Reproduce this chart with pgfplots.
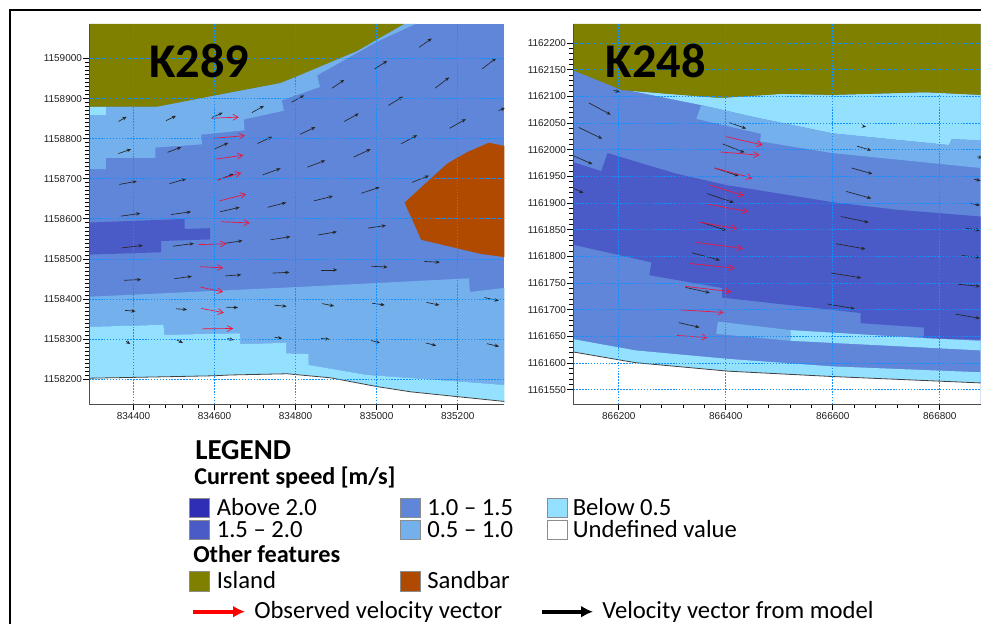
\documentclass[border=0pt]{standalone}
\usepackage{fontspec}
\setmainfont{Liberation Sans}
\newfontfamily\carlito{Carlito}
\usepackage{pgfplots}
\pgfplotsset{compat=1.18}
\usetikzlibrary{arrows.meta}
\definecolor{cIsland}{HTML}{808000}
\definecolor{cSand}{HTML}{B04A00}
\definecolor{cA}{HTML}{2F2FB5}
\definecolor{cB}{HTML}{4A5BC8}
\definecolor{cC}{HTML}{5F86D9}
\definecolor{cD}{HTML}{74B1EC}
\definecolor{cE}{HTML}{94E0FF}
\definecolor{cGrid}{HTML}{1090FF}
\definecolor{cRed}{HTML}{F0143C}
\definecolor{cTick}{HTML}{202020}
\pgfplotsset{
  panel/.style={
    scale only axis, anchor=south west,
    axis lines=left, axis line style={-,cTick!80,line width=.9pt},
    tick align=outside, tick style={black,line width=.7pt},
    major tick length=4.5pt, minor tick length=3pt,
    grid=major, grid style={cGrid,dash pattern=on 1.1pt off 1.1pt,line width=.75pt},
    axis on top,
    scaled ticks=false,
    tick label style={font=\fontsize{7.5}{9}\selectfont,text=cTick,
      /pgf/number format/fixed,/pgf/number format/precision=0,
      /pgf/number format/1000 sep={},/pgf/number format/assume math mode=true},
    xticklabel style={yshift=1.5pt},
    yticklabel style={xshift=2.5pt},
  },
  blk/.style={draw=black!85,line width=.5pt,
    quiver={u=\thisrow{u},v=\thisrow{v},every arrow/.append style={-{Stealth[length=3.2pt,width=2.6pt]}}}},
  rd/.style={draw=cRed,line width=.5pt,
    quiver={u=\thisrow{u},v=\thisrow{v},every arrow/.append style={-{Straight Barb[length=4pt,width=4.5pt]}}}},
}
\begin{document}
\begin{tikzpicture}
\useasboundingbox (0,0) rectangle (735.75pt,468pt);
% ---------- K289 ----------
\begin{axis}[panel, at={(67pt,164.8pt)}, width=311.25pt, height=285.2pt,
  xmin=834291, xmax=835315, ymin=1158138, ymax=1159086,
  xtick={834400,834600,834800,835000,835200}, minor x tick num=4,
  ytick={1158200,1158300,1158400,1158500,1158600,1158700,1158800,1158900,1159000}, minor y tick num=9]
\addplot[fill=cC,draw=none] coordinates {(834291,1158138)(835315,1158138)(835315,1159086)(834291,1159086)} --cycle;
\addplot[fill=cD,draw=none] coordinates {(834291,1158880)(834458,1158880)(834606,1158909)(834762,1158939)(834799,1158954)(834952,1159019)(835067,1159086)(835096,1159086)(835001,1159042)(834853,1158958)(834860,1158929)(834766,1158896)(834771,1158870)(834672,1158848)(834674,1158821)(834567,1158810)(834569,1158786)(834454,1158778)(834454,1158752)(834332,1158752)(834332,1158724)(834291,1158724)} --cycle;
\addplot[fill=cE,draw=none] coordinates {(834291,1158880)(834332,1158880)(834332,1158859)(834291,1158859)} --cycle;
\addplot[fill=cIsland,draw=none] coordinates {(834291,1159086)(835067,1159086)(834952,1159019)(834799,1158954)(834762,1158939)(834606,1158909)(834458,1158880)(834291,1158880)} --cycle;
\addplot[fill=cD,draw=none] coordinates {(834291,1158406)(834799,1158430)(835228,1158452)(835230,1158418)(835315,1158428)(835315,1158186)(835199,1158195)(834976,1158211)(834832,1158236)(834832,1158263)(834777,1158265)(834777,1158291)(834664,1158288)(834662,1158315)(834476,1158311)(834474,1158336)(834291,1158331)} --cycle;
\addplot[fill=cE,draw=none] coordinates {(834291,1158331)(834474,1158336)(834476,1158311)(834662,1158315)(834664,1158288)(834777,1158291)(834777,1158265)(834832,1158263)(834832,1158236)(834976,1158211)(835199,1158195)(835315,1158186)(835315,1158138)(834291,1158138)} --cycle;
\addplot[fill=cB,draw=none] coordinates {(834291,1158591)(834526,1158600)(834526,1158575)(834589,1158577)(834589,1158549)(834468,1158545)(834468,1158517)(834291,1158511)} --cycle;
\addplot[fill=cSand,draw=none] coordinates {(835069,1158641)(835174,1158738)(835224,1158767)(835277,1158790)(835315,1158782)(835315,1158505)(835256,1158513)(835110,1158548)(835077,1158622)} --cycle;
\addplot[fill=white,draw=none] coordinates {(834291,1158203)(834400,1158205)(834598,1158209)(834639,1158211)(834779,1158214)(834886,1158204)(835001,1158182)(835084,1158169)(835199,1158157)(835315,1158145)(835315,1158138)(834291,1158138)} --cycle;
\addplot[draw=black!75,line width=.6pt] coordinates {(834291,1158203)(834400,1158205)(834598,1158209)(834639,1158211)(834779,1158214)(834886,1158204)(835001,1158182)(835084,1158169)(835199,1158157)(835315,1158145)};
\addplot[blk] table {
x y u v
834363 1158843 20 12
834480 1158845 25 12
834594 1158853 26 12
834692 1158865 30 17
834790 1158891 31 17
834890 1158926 30 21
834995 1158974 31 20
835105 1159028 31 22
835144 1158926 35 27
835260 1158974 35 27
835029 1158883 36 22
834920 1158843 36 20
834811 1158811 38 18
834706 1158788 36 17
835301 1158870 16 7
834363 1158763 31 11
834484 1158766 34 13
834599 1158774 35 16
835180 1158826 40 23
835060 1158787 40 22
834943 1158754 42 20
834829 1158729 44 17
834719 1158710 44 16
834608 1158697 39 15
834365 1158686 43 8
834489 1158688 41 12
835087 1158691 42 17
834962 1158664 45 15
834845 1158645 47 12
834731 1158629 46 12
834614 1158618 48 11
834493 1158611 49 7
834369 1158607 48 7
834372 1158528 51 6
834497 1158532 52 7
834624 1158539 45 7
834738 1158548 49 8
834855 1158560 47 8
834978 1158577 45 7
834377 1158447 42 2
834501 1158451 43 6
834626 1158458 40 3
834743 1158465 42 2
834863 1158473 40 0
834987 1158482 40 -2
835118 1158494 38 -2
834379 1158372 26 -2
834505 1158376 27 -2
834629 1158380 29 -1
834748 1158385 30 -3
834865 1158389 30 -6
834989 1158390 31 -5
835123 1158392 32 -7
835266 1158404 35 -8
834382 1158295 10 -7
834507 1158298 15 -7
834632 1158302 15 -4
834748 1158305 19 -3
834863 1158302 21 -2
834986 1158297 22 -6
835121 1158291 26 -7
835272 1158289 30 -7
};
\addplot[rd] table {
x y u v
834592 1158851 68 3
834598 1158801 77 7
834602 1158749 69 10
834607 1158697 59 18
834612 1158645 66 17
834617 1158593 70 -3
834560 1158536 69 2
834563 1158481 58 -3
834565 1158430 56 -12
834567 1158377 56 -11
834569 1158326 77 1
};
\end{axis}
% ---------- K248 ----------
\begin{axis}[panel, at={(430pt,164.8pt)}, width=305.4pt, height=285.2pt,
  xmin=866115, xmax=866876, ymin=1161523, ymax=1162236,
  xtick={866200,866400,866600,866800}, minor x tick num=4,
  ytick={1161550,1161600,1161650,1161700,1161750,1161800,1161850,1161900,1161950,1162000,1162050,1162100,1162150,1162200}, minor y tick num=4]
\addplot[fill=cC,draw=none] coordinates {(866115,1161523)(866876,1161523)(866876,1162236)(866115,1162236)} --cycle;
\addplot[fill=cE,draw=none] coordinates {(866221,1162111)(866280,1162106)(866380,1162098)(866401,1162098)(866505,1162105)(866599,1162103)(866773,1162108)(866876,1162103)(866876,1162018)(866822,1162020)(866817,1162009)(866599,1162031)(866455,1162061)(866354,1162084)} --cycle;
\addplot[fill=cD,draw=none] coordinates {(866354,1162084)(866455,1162061)(866599,1162031)(866817,1162009)(866822,1162020)(866876,1162018)(866876,1161966)(866599,1161994)(866464,1162016)(866466,1162030)(866345,1162058)} --cycle;
\addplot[fill=cB,draw=none] coordinates {(866115,1161977)(866167,1161960)(866179,1161994)(866305,1161956)(866401,1161934)(866599,1161902)(866717,1161888)(866876,1161875)(866876,1161644)(866770,1161647)(866770,1161667)(866652,1161675)(866652,1161694)(866599,1161700)(866393,1161723)(866393,1161741)(866257,1161765)(866261,1161789)(866115,1161822)} --cycle;
\addplot[fill=cD,draw=none] coordinates {(866385,1161678)(866521,1161662)(866521,1161642)(866382,1161655)} --cycle;
\addplot[fill=cE,draw=none] coordinates {(866521,1161662)(866770,1161647)(866876,1161642)(866876,1161624)(866521,1161642)} --cycle;
\addplot[fill=cE,draw=none] coordinates {(866115,1161645)(866231,1161624)(866405,1161608)(866599,1161594)(866876,1161583)(866876,1161563)(866599,1161575)(866405,1161585)(866231,1161601)(866115,1161621)} --cycle;
\addplot[fill=white,draw=none] coordinates {(866115,1161621)(866231,1161601)(866405,1161585)(866599,1161575)(866876,1161563)(866876,1161523)(866115,1161523)} --cycle;
\addplot[fill=cIsland,draw=none] coordinates {(866115,1162236)(866876,1162236)(866876,1162103)(866773,1162108)(866599,1162103)(866505,1162105)(866401,1162098)(866380,1162098)(866280,1162106)(866206,1162112)(866115,1162149)} --cycle;
\addplot[draw=black!75,line width=.6pt] coordinates {(866115,1161621)(866231,1161601)(866405,1161585)(866599,1161575)(866876,1161563)};
\addplot[blk] table {
x y u v
866144 1162088 41 -22
866125 1162042 44 -21
866115 1161989 36 -16
866115 1161928 19 -9
866190 1162112 12 -4
866407 1162051 31 -11
866394 1162011 41 -16
866379 1161966 45 -15
866365 1161918 50 -17
866658 1162044 4 -1
866645 1162007 27 -8
866635 1161966 39 -11
866625 1161922 47 -13
866870 1161987 10 -2
866864 1161945 12 -3
866856 1161900 19 -4
866615 1161875 52 -11
866606 1161824 55 -10
866597 1161769 56 -9
866590 1161711 51 -9
866848 1161853 27 -4
866841 1161802 34 -4
866834 1161748 41 -4
866829 1161692 46 -8
866355 1161864 46 -15
866337 1161807 52 -14
866325 1161742 45 -10
866312 1161676 39 -9
};
\addplot[rd] table {
x y u v
866399 1162025 70 -16
866390 1161996 73 -6
866379 1161966 71 -19
866370 1161934 64 -20
866363 1161899 79 -15
866352 1161864 69 -12
866342 1161827 90 -12
866332 1161787 85 -9
866324 1161744 86 -10
866315 1161700 81 -5
866309 1161652 57 -4
};
\end{axis}
% ---------- frame, labels and legend, in pixels of the reference ----------
\begin{scope}[yshift=468pt,x=.75pt,y=-.75pt]
\draw[black,line width=2.1pt] (10,624) -- (10,10) -- (981,10);
\node[anchor=base west,inner sep=0,font=\carlito\bfseries\fontsize{36.3}{40}\selectfont] at (149,78) {K289};
\node[anchor=base west,inner sep=0,font=\carlito\bfseries\fontsize{36.3}{40}\selectfont] at (605.5,78) {K248};
\tikzset{lg/.style={anchor=base west,inner sep=0,font=\carlito\fontsize{18.5}{20}\selectfont},
  lb/.style={anchor=base west,inner sep=0,font=\carlito\bfseries\fontsize{#1}{20}\selectfont},
  sw/.style={draw=black!45,line width=.5pt}}
\node[lb=21.7] at (195,459.3) {LEGEND};
\node[lb=18.1] at (194,485) {Current speed [m/s]};
\node[lb=18.2] at (193,562.7) {Other features};
\filldraw[sw,fill=cA] (189.4,498) rectangle (209,517);
\filldraw[sw,fill=cB] (189.4,520.7) rectangle (209,539);
\filldraw[sw,fill=cC] (400.7,498) rectangle (420,517);
\filldraw[sw,fill=cD] (400.7,520.7) rectangle (420,539);
\filldraw[sw,fill=cE] (547,498) rectangle (567,517);
\filldraw[sw,fill=white] (547,520.7) rectangle (567,539);
\filldraw[sw,fill=cIsland] (189.4,571.7) rectangle (209,591.3);
\filldraw[sw,fill=cSand] (400.7,571.7) rectangle (420,591.3);
\node[lg] at (216.5,515.7) {Above 2.0};
\node[lg] at (216.5,537.3) {1.5 – 2.0};
\node[lg] at (427,515.7) {1.0 – 1.5};
\node[lg] at (427,537.3) {0.5 – 1.0};
\node[lg] at (572.5,515.7) {Below 0.5};
\node[lg] at (572.5,537.3) {Undefined value};
\node[lg] at (216.5,589) {Island};
\node[lg] at (427,589) {Sandbar};
\draw[red,line width=2.8pt,-{Latex[length=9pt,width=9pt]}] (193,611.7) -- (245,611.7);
\draw[black,line width=2.8pt,-{Latex[length=9pt,width=9pt]}] (542,611.7) -- (593,611.7);
\node[lg] at (254,619) {Observed velocity vector};
\node[lg] at (602,619) {Velocity vector from model};
\end{scope}
\end{tikzpicture}
\end{document}
